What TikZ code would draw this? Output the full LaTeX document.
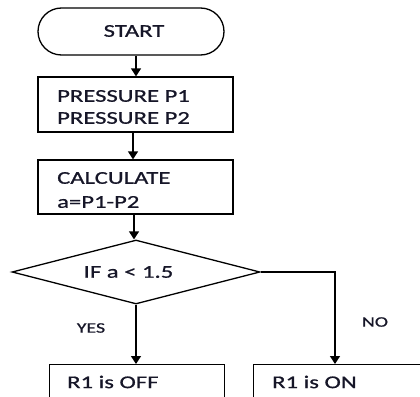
\documentclass[tikz,border=0pt]{standalone}
\usepackage{fontspec}
\setmainfont{Carlito}[FakeStretch=1.37,FakeBold=0.8]
\usetikzlibrary{arrows.meta,shapes.geometric}
\definecolor{txt}{RGB}{22,22,40}
\tikzset{
  arr/.style={-{Triangle[length=8pt,width=10pt]}, line width=1.3pt},
  boxst/.style={draw, line width=1.3pt, rectangle, inner sep=0pt, text=txt},
  lbl/.style={text=txt, inner sep=0pt, font=\fontsize{18}{22}\selectfont},
  small/.style={text=txt, inner sep=0pt, font=\fontsize{14.5}{17}\selectfont}
}
\begin{document}
\begin{tikzpicture}[x=1pt,y=-1pt]
\useasboundingbox (0,0) rectangle (420,396);
\clip (0,0) rectangle (420,396);
\node[boxst, rounded corners=23.5pt, minimum width=186pt, minimum height=47pt] (start) at (131,31.5) {};
\node[lbl] (startt) at (134,31) {START};
\node[boxst, minimum width=195pt, minimum height=55pt] (box1) at (135.5,104.5) {};
\node[lbl, anchor=west] (t1a) at (57,96) {PRESSURE P1};
\node[lbl, anchor=west] (t1b) at (57,118) {PRESSURE P2};
\node[boxst, minimum width=195pt, minimum height=54pt] (box2) at (135.5,187) {};
\node[lbl, anchor=west] (t2a) at (57,178) {CALCULATE};
\node[lbl, anchor=west] (t2b) at (57,202) {a=P1-P2};
\node[boxst, diamond, minimum width=248pt, minimum height=64pt] (dec) at (136,272) {};
\node[lbl] (dect) at (128.5,272) {IF a < 1.5};
\node[boxst, minimum width=175pt, minimum height=60pt, anchor=north west] (off) at (49,364) {};
\node[lbl, anchor=west] (offt) at (67,382) {R1 is OFF};
\node[boxst, minimum width=200pt, minimum height=60pt, anchor=north west] (on) at (253,364) {};
\node[lbl, anchor=west] (ont) at (272,382) {R1 is ON};
\node[small] (yes) at (91,328) {YES};
\node[small] (no) at (375,322) {NO};
\coordinate (corner) at (335,272);
\draw[arr] (start.south -| 136,0) -- (box1.north -| 136,0);
\draw[arr] (box1.south -| 133,0) -- (box2.north -| 133,0);
\draw[arr] (box2.south -| 134,0) -- (dec.north -| 134,0);
\draw[arr] (dec.south) -- (off.north -| dec.south);
\draw[arr] (dec.east) -- (corner) -- (on.north -| corner);
\end{tikzpicture}
\end{document}
